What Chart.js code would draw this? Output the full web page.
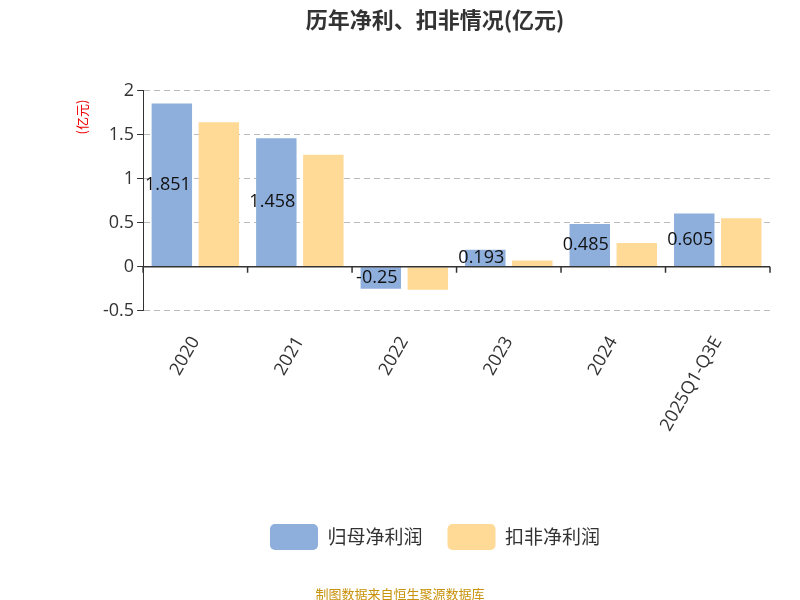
<!DOCTYPE html>
<html><head><meta charset="utf-8">
<script src="https://cdn.jsdelivr.net/npm/chart.js@4"></script>
<style>body{margin:0;background:#fff}#wrap{width:800px;height:600px;position:relative}</style>
</head><body><div id="wrap"><canvas id="chart" width="800" height="600"></canvas></div>
<script>
'use strict';

var years = ['2020', '2021', '2022', '2023', '2024', '2025Q1-Q3E'];
var netProfit = [1.851, 1.458, -0.25, 0.193, 0.485, 0.605];
var deductedProfit = [1.64, 1.27, -0.26, 0.07, 0.27, 0.55];
var font = "'Noto Sans CJK SC', 'Noto Sans', sans-serif";
var tickFont = "'Open Sans', 'Noto Sans', sans-serif";

// value labels in the middle of the blue bars, plus the zero axis line
var labelPlugin = {
    id: 'labels',
    afterDatasetsDraw: function (chart) {
        var c = chart.ctx;
        var x = chart.scales.x, y = chart.scales.y;
        var y0 = y.getPixelForValue(0);
        c.save();
        c.strokeStyle = '#333';
        c.lineWidth = 1.5;
        c.beginPath();
        c.moveTo(x.left, y0); c.lineTo(x.right, y0);
        for (var i = 0; i <= years.length; i++) {
            var px = x.left + (x.right - x.left) * i / years.length;
            c.moveTo(px, y0); c.lineTo(px, y0 + 6);
        }
        c.stroke();
        c.font = '18px ' + tickFont;
        c.fillStyle = '#111';
        c.textAlign = 'center';
        c.textBaseline = 'middle';
        chart.getDatasetMeta(0).data.forEach(function (bar, i) {
            c.fillText(String(netProfit[i]), bar.x - 4, (bar.y + bar.base) / 2);
        });
        c.restore();
    }
};

var extraText = {
    id: 'extraText',
    afterDraw: function (chart) {
        var c = chart.ctx;
        c.save();
        c.font = '13px ' + font;
        c.fillStyle = '#c8920c';
        c.textAlign = 'center';
        c.fillText('制图数据来自恒生聚源数据库', 400, 594);
        c.translate(78, 117);
        c.rotate(-Math.PI / 2);
        c.fillStyle = '#e00';
        c.fillText('(亿元)', 0, 4);
        c.restore();
    }
};

var ctx = document.getElementById('chart').getContext('2d');
new Chart(ctx, {
    type: 'bar',
    data: {
        labels: years,
        datasets: [{
            label: '归母净利润',
            backgroundColor: '#8eaedc',
            data: netProfit
        }, {
            label: '扣非净利润',
            backgroundColor: '#ffd996',
            data: deductedProfit
        }]
    },
    plugins: [labelPlugin, extraText],
    options: {
        responsive: false,
        animation: false,
        layout: { padding: { left: 100, right: 30, top: 0, bottom: 40 } },
        datasets: { bar: { barPercentage: 0.86, categoryPercentage: 0.9 } },
        plugins: {
            title: {
                display: true, text: '历年净利、扣非情况(亿元)', color: '#333',
                font: { family: font, size: 22, weight: 'bold' },
                padding: { top: 6, bottom: 58 }
            },
            legend: {
                position: 'bottom',
                labels: {
                    color: '#333', font: { family: font, size: 19 },
                    boxWidth: 48, boxHeight: 26, padding: 25, useBorderRadius: true, borderRadius: 5
                }
            },
            tooltip: { enabled: false }
        },
        scales: {
            x: {
                grid: { display: false },
                border: { display: false },
                afterFit: function (s) { s.height += 50; },
                ticks: { color: '#333', font: { family: tickFont, size: 18 }, maxRotation: 60, minRotation: 60, padding: 14 }
            },
            y: {
                min: -0.5, max: 2,
                ticks: { stepSize: 0.5, color: '#333', font: { family: tickFont, size: 18 },
                    callback: function (v) { return String(v); } },
                grid: { color: '#bbb', tickLength: 6, tickColor: '#333' },
                border: { dash: [6, 4], color: '#333', display: true }
            }
        }
    }
});
</script></body></html>
